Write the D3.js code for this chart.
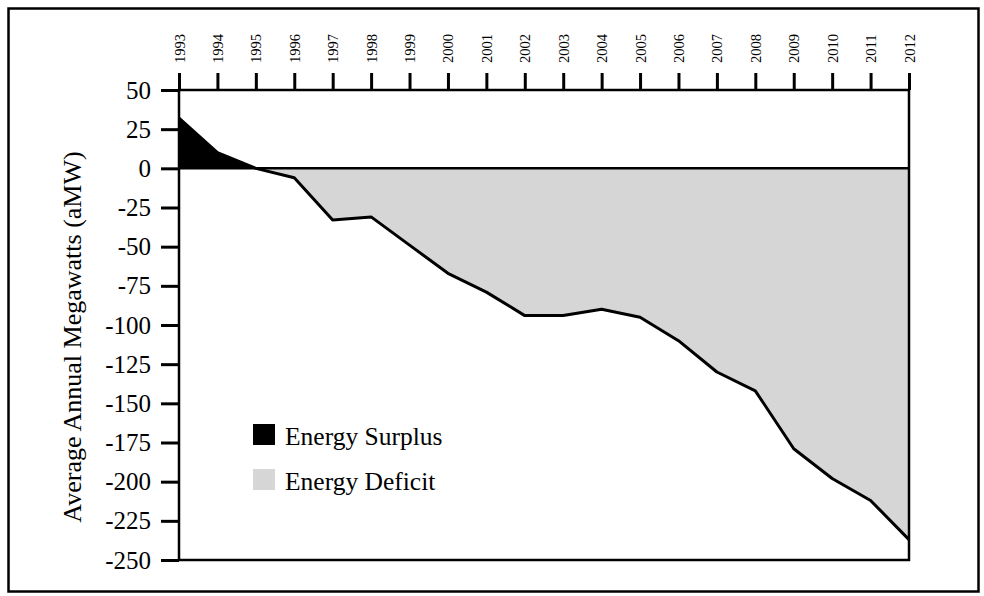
<!DOCTYPE html>
<html>
<head>
<meta charset="utf-8">
<script src="https://cdn.jsdelivr.net/npm/d3@7"></script>
<style>
  html, body { margin: 0; padding: 0; background: #fff; }
  svg { display: block; }
  text { font-family: "Liberation Serif", "Times New Roman", serif; fill: #000; }
</style>
</head>
<body>
<svg id="chart" width="984" height="596"></svg>
<script>
// ---- data ----
const years = [1993, 1994, 1995, 1996, 1997, 1998, 1999, 2000, 2001, 2002,
               2003, 2004, 2005, 2006, 2007, 2008, 2009, 2010, 2011, 2012];
const balance = [32, 10, 0, -6, -33, -31, -49, -67, -79, -94,
                 -94, -90, -95, -110, -130, -142, -179, -198, -212, -237];
const yTicks = [50, 25, 0, -25, -50, -75, -100, -125, -150, -175, -200, -225, -250];
const yTitle = "Average Annual Megawatts (aMW)";
const legendLabels = ["Energy Surplus", "Energy Deficit"];

// ---- layout ----
const svg = d3.select("#chart");
const plotLeft = 179, plotRight = 909, plotTop = 90, plotBottom = 560;
const x = d3.scaleLinear().domain([1993, 2012]).range([plotLeft, plotRight]);
const y = d3.scaleLinear().domain([-250, 50]).range([plotBottom, plotTop]);
const deficitGray = "#d6d6d6";

// outer frame
svg.append("rect")
  .attr("x", 8.5).attr("y", 8.5).attr("width", 970).attr("height", 583)
  .attr("fill", "none").attr("stroke", "#000").attr("stroke-width", 2.5);

const pts = years.map((yr, i) => ({ yr, v: balance[i] }));

// surplus area (above 0)
const surplus = pts.filter(d => d.yr <= 1995);
svg.append("path")
  .datum(surplus)
  .attr("d", d3.area().x(d => x(d.yr)).y0(y(0)).y1(d => y(Math.max(d.v, 0))))
  .attr("fill", "#000");

// deficit area (below 0)
const deficit = pts.filter(d => d.yr >= 1995);
svg.append("path")
  .datum(deficit)
  .attr("d", d3.area().x(d => x(d.yr)).y0(y(0)).y1(d => y(Math.min(d.v, 0))))
  .attr("fill", deficitGray);

// balance line
svg.append("path")
  .datum(pts)
  .attr("d", d3.line().x(d => x(d.yr)).y(d => y(d.v)))
  .attr("fill", "none").attr("stroke", "#000").attr("stroke-width", 3)
  .attr("stroke-linejoin", "round");

// zero line
svg.append("line")
  .attr("x1", plotLeft).attr("x2", plotRight).attr("y1", y(0)).attr("y2", y(0))
  .attr("stroke", "#000").attr("stroke-width", 2.5);

// plot frame
svg.append("rect")
  .attr("x", plotLeft).attr("y", plotTop).attr("width", plotRight - plotLeft).attr("height", plotBottom - plotTop)
  .attr("fill", "none").attr("stroke", "#000").attr("stroke-width", 2.5);

// top axis (years)
const xAxis = svg.append("g")
  .attr("transform", `translate(0,${plotTop})`)
  .call(d3.axisTop(x).tickValues(years).tickFormat(d => String(d)).tickSize(17).tickSizeOuter(0));
xAxis.select(".domain").remove();
xAxis.selectAll(".tick line").attr("stroke", "#000").attr("stroke-width", 3);
xAxis.selectAll(".tick text")
  .attr("transform", "rotate(-90)")
  .attr("text-anchor", "start")
  .attr("x", 27).attr("y", 5).attr("dy", null)
  .style("font-size", "14.5px")
  .style("font-family", "'Liberation Serif', serif");

// left axis
const yAxis = svg.append("g")
  .attr("transform", `translate(${plotLeft},0)`)
  .call(d3.axisLeft(y).tickValues(yTicks).tickFormat(d => String(d)).tickSize(18).tickPadding(10).tickSizeOuter(0));
yAxis.select(".domain").remove();
yAxis.selectAll(".tick line").attr("stroke", "#000").attr("stroke-width", 3);
yAxis.selectAll(".tick text")
  .style("font-size", "25px")
  .style("font-family", "'Liberation Serif', serif");

// y title
svg.append("text")
  .attr("transform", `translate(81,${(147 + 527) / 2}) rotate(-90)`)
  .attr("text-anchor", "middle")
  .style("font-size", "26px")
  .text(yTitle);

// legend
const legend = svg.append("g");
const legendFills = ["#000", deficitGray];
const legendY = [424, 469];
legendLabels.forEach((lab, i) => {
  legend.append("rect")
    .attr("x", 253).attr("y", legendY[i]).attr("width", 22).attr("height", 21)
    .attr("fill", legendFills[i]);
  legend.append("text")
    .attr("x", 285).attr("y", legendY[i] + 21)
    .style("font-size", "25.5px")
    .text(lab);
});
</script>
</body>
</html>
